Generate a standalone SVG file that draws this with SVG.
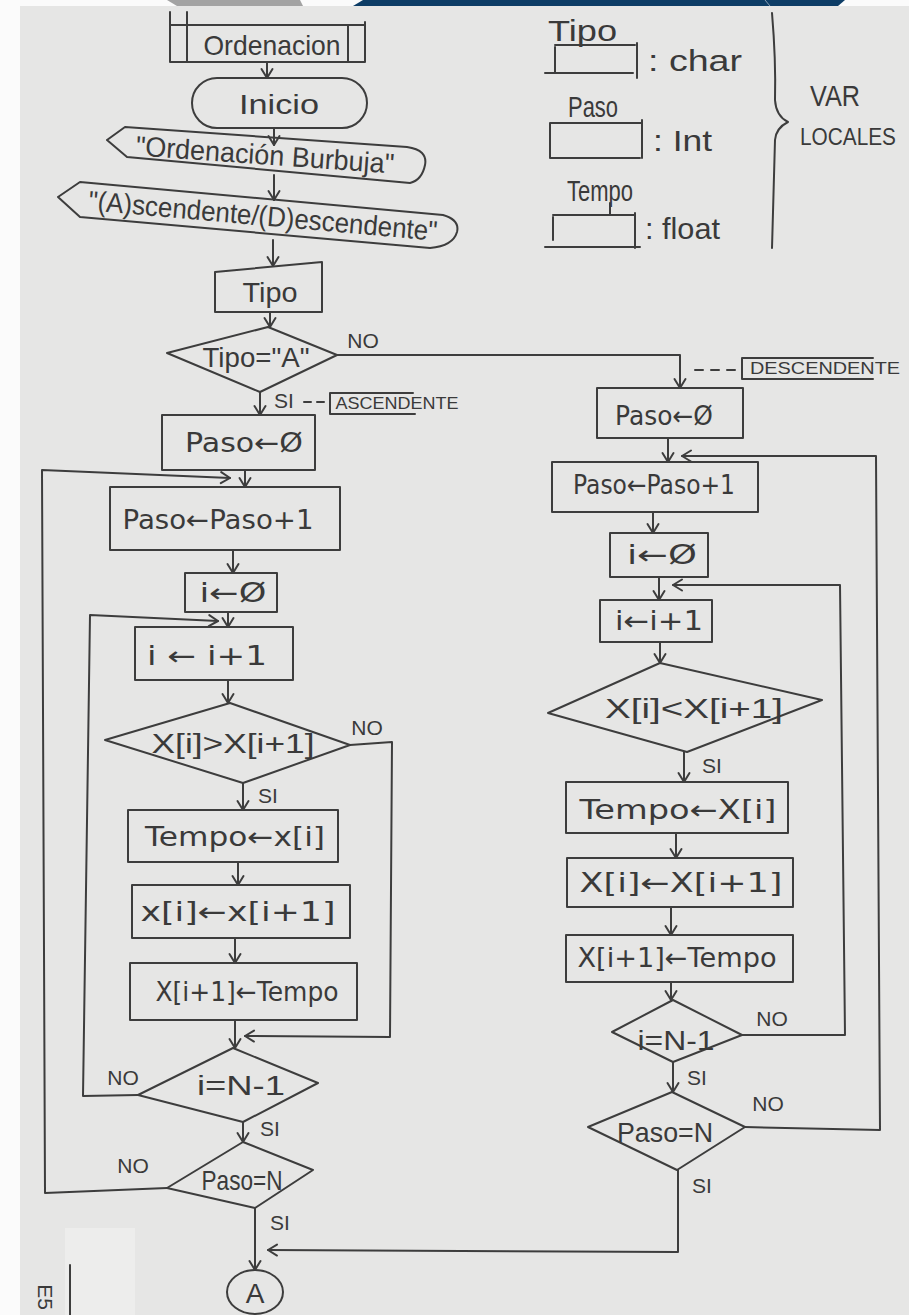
<svg xmlns="http://www.w3.org/2000/svg" width="909" height="1315" viewBox="0 0 909 1315">
  <style>
    .s { fill: none; stroke: #3d3d3d; stroke-width: 2; stroke-linejoin: round; stroke-linecap: round; }
    .t { font-family: "Liberation Sans", "DejaVu Sans", sans-serif; font-size: 28px; fill: #3a3a3a; text-anchor: middle; dominant-baseline: central; }
    .dv { font-family: "DejaVu Sans", sans-serif; font-size: 26px; }
    .lbl { font-size: 21px; }
    .tag { font-size: 17px; }
    .lg { font-size: 30px; text-anchor: start; }
    .lc { font-size: 23px; }
  </style>
  <defs>
    <marker id="arr" markerUnits="userSpaceOnUse" markerWidth="14" markerHeight="14" refX="11" refY="7" orient="auto">
      <path d="M2,1.5 L11,7 L2,12.5" fill="none" stroke="#3d3d3d" stroke-width="2" stroke-linecap="round" stroke-linejoin="round"/>
    </marker>
  </defs>

  <!-- page and margins -->
  <rect x="0" y="0" width="909" height="1315" fill="#fbfbfb"/>
  <rect x="20" y="6" width="889" height="1309" fill="#e6e6e5"/>
  <rect x="65" y="1228" width="70" height="87" fill="#ededec"/>
  <polygon points="167,0 300,0 303,6 177,6" fill="#a3a3a3"/>
  <polygon points="363,0 845,0 838,6 353,6" fill="#0d3d66"/>
  <line x1="765" y1="0" x2="770" y2="6" stroke="#8aa0b5" stroke-width="1"/>

  <!-- local variable declarations -->
  <g id="legend">
    <text class="t lg" x="548" y="30" textLength="69" lengthAdjust="spacingAndGlyphs">Tipo</text>
    <path class="s" d="M555,47 V72 M555,45 H635 M637,43 V78 M545,73 H633"/>
    <text class="t lg" x="648" y="60" textLength="94" lengthAdjust="spacingAndGlyphs">: char</text>
    <text class="t lg" x="568" y="106" textLength="50" lengthAdjust="spacingAndGlyphs">Paso</text>
    <path class="s" d="M550,123 V158 M550,123 H642 M642,120 V158 M550,158 H640"/>
    <text class="t lg" x="653" y="140" textLength="59" lengthAdjust="spacingAndGlyphs">: Int</text>
    <text class="t lg" x="567" y="190" textLength="66" lengthAdjust="spacingAndGlyphs">Tempo</text>
    <path class="s" d="M553,217 V240 M553,215 H635 M635,213 V248 M545,247 H640 M610,203 V215"/>
    <text class="t lg" x="645" y="228" textLength="75" lengthAdjust="spacingAndGlyphs">: float</text>
    <path class="s" d="M772,13 Q776,60 775,100 Q776,116 788,122 Q776,128 775,140 L772,248"/>
    <text class="t lg" x="810" y="95" textLength="50" lengthAdjust="spacingAndGlyphs">VAR</text>
    <text class="t lg lc" x="800" y="137" textLength="96" lengthAdjust="spacingAndGlyphs">LOCALES</text>
  </g>

  <!-- connectors -->
  <g id="connectors" class="s">
    <path d="M267,62 V78" marker-end="url(#arr)"/>
    <path d="M274,128 V145" marker-end="url(#arr)"/>
    <path d="M274,175 V200" marker-end="url(#arr)"/>
    <path d="M273,240 V266" marker-end="url(#arr)"/>
    <path d="M270,312 V327" marker-end="url(#arr)"/>
    <path d="M260,392 V415" marker-end="url(#arr)"/>
    <path d="M337,355 H680 V388" marker-end="url(#arr)"/>
    <!-- ascending branch -->
    <path d="M245,470 V487" marker-end="url(#arr)"/>
    <path d="M233,550 V573" marker-end="url(#arr)"/>
    <path d="M228,612 V627" marker-end="url(#arr)"/>
    <path d="M228,680 V703" marker-end="url(#arr)"/>
    <path d="M243,783 V810" marker-end="url(#arr)"/>
    <path d="M238,862 V885" marker-end="url(#arr)"/>
    <path d="M235,938 V963" marker-end="url(#arr)"/>
    <path d="M235,1020 V1048" marker-end="url(#arr)"/>
    <path d="M243,1122 V1142" marker-end="url(#arr)"/>
    <path d="M255,1208 V1270" marker-end="url(#arr)"/>
    <path d="M350,745 L392,742 L390,1037 L245,1036" marker-end="url(#arr)"/>
    <path d="M138,1095 L83,1096 L90,615 L218,621" marker-end="url(#arr)"/>
    <path d="M167,1188 L45,1193 L42,470 L230,478" marker-end="url(#arr)"/>
    <!-- descending branch -->
    <path d="M668,438 V462" marker-end="url(#arr)"/>
    <path d="M653,512 V533" marker-end="url(#arr)"/>
    <path d="M659,577 V600" marker-end="url(#arr)"/>
    <path d="M660,642 V663" marker-end="url(#arr)"/>
    <path d="M684,752 V782" marker-end="url(#arr)"/>
    <path d="M676,833 V858" marker-end="url(#arr)"/>
    <path d="M671,907 V935" marker-end="url(#arr)"/>
    <path d="M671,982 V1000" marker-end="url(#arr)"/>
    <path d="M673,1062 V1092" marker-end="url(#arr)"/>
    <path d="M742,1035 H845 L840,585 H673" marker-end="url(#arr)"/>
    <path d="M745,1127 L880,1130 L876,456 H682" marker-end="url(#arr)"/>
    <path d="M678,1170 L678,1252 L268,1250" marker-end="url(#arr)"/>
  </g>

  <!-- header nodes -->
  <g id="n-ordenacion">
    <path class="s" d="M170,12 V62 M187,12 V62 M170,25 H365 M170,62 H365 M348,25 V62 M365,22 V62"/>
    <text class="t" x="272" y="45" textLength="137" lengthAdjust="spacingAndGlyphs">Ordenacion</text>
  </g>
  <g id="n-inicio">
    <rect class="s" x="192" y="78" width="175" height="50" rx="25"/>
    <text class="t" x="279" y="104" textLength="80" lengthAdjust="spacingAndGlyphs">Inicio</text>
  </g>
  <g id="n-titulo">
    <path class="s" d="M107,140 L125,127 L407,147 Q428,150 425,165 Q422,180 410,183 L127,157 Z"/>
    <text class="t" x="265" y="155" transform="rotate(4 265 155)" textLength="259" lengthAdjust="spacingAndGlyphs">"Ordenación Burbuja"</text>
  </g>
  <g id="n-pregunta">
    <path class="s" d="M58,197 L80,182 L443,215 Q460,220 457,232 Q453,246 430,248 L80,217 Z"/>
    <text class="t" x="263" y="216" transform="rotate(5 263 216)" textLength="350" lengthAdjust="spacingAndGlyphs">"(A)scendente/(D)escendente"</text>
  </g>
  <g id="n-leer-tipo">
    <path class="s" d="M215,272 L322,262 L322,312 L215,312 Z"/>
    <text class="t" x="270" y="292" textLength="55" lengthAdjust="spacingAndGlyphs">Tipo</text>
  </g>
  <g id="n-tipo-a">
    <path class="s" d="M268,327 L337,355 L260,392 L167,353 Z"/>
    <text class="t" x="256" y="357" textLength="107" lengthAdjust="spacingAndGlyphs">Tipo="A"</text>
  </g>

  <!-- ascending sort -->
  <g id="a-paso0">
    <rect class="s" x="162" y="415" width="153" height="55"/>
    <text class="t dv" x="244" y="443" textLength="118" lengthAdjust="spacingAndGlyphs">Paso←Ø</text>
  </g>
  <g id="a-paso-inc">
    <rect class="s" x="110" y="487" width="230" height="63"/>
    <text class="t dv" x="218" y="520" textLength="191" lengthAdjust="spacingAndGlyphs">Paso←Paso+1</text>
  </g>
  <g id="a-i0">
    <rect class="s" x="185" y="573" width="92" height="39"/>
    <text class="t dv" x="233" y="593" textLength="67" lengthAdjust="spacingAndGlyphs">i←Ø</text>
  </g>
  <g id="a-i-inc">
    <rect class="s" x="135" y="627" width="158" height="53"/>
    <text class="t dv" x="207" y="656" textLength="120" lengthAdjust="spacingAndGlyphs">i ← i+1</text>
  </g>
  <g id="a-cmp">
    <path class="s" d="M230,703 L350,745 L243,783 L105,740 Z"/>
    <text class="t" x="233" y="743" textLength="163" lengthAdjust="spacingAndGlyphs">X[i]&gt;X[i+1]</text>
  </g>
  <g id="a-swap1">
    <rect class="s" x="128" y="810" width="210" height="52"/>
    <text class="t dv" x="235" y="837" textLength="180" lengthAdjust="spacingAndGlyphs">Tempo←x[i]</text>
  </g>
  <g id="a-swap2">
    <rect class="s" x="132" y="885" width="218" height="53"/>
    <text class="t dv" x="238" y="912" textLength="195" lengthAdjust="spacingAndGlyphs">x[i]←x[i+1]</text>
  </g>
  <g id="a-swap3">
    <rect class="s" x="130" y="963" width="227" height="57"/>
    <text class="t dv" x="247" y="992" textLength="183" lengthAdjust="spacingAndGlyphs">X[i+1]←Tempo</text>
  </g>
  <g id="a-fin-i">
    <path class="s" d="M233,1048 L318,1083 L243,1122 L138,1095 Z"/>
    <text class="t" x="241" y="1085" textLength="88" lengthAdjust="spacingAndGlyphs">i=N-1</text>
  </g>
  <g id="a-fin-paso">
    <path class="s" d="M243,1142 L313,1170 L255,1208 L167,1188 Z"/>
    <text class="t" x="242" y="1180" textLength="81" lengthAdjust="spacingAndGlyphs">Paso=N</text>
  </g>
  <g id="conector-a">
    <ellipse class="s" cx="255" cy="1292" rx="28" ry="22"/>
    <text class="t" x="255" y="1293">A</text>
  </g>

  <!-- descending sort -->
  <g id="d-paso0">
    <rect class="s" x="597" y="388" width="146" height="50"/>
    <text class="t dv" x="664" y="416" textLength="98" lengthAdjust="spacingAndGlyphs">Paso←Ø</text>
  </g>
  <g id="d-paso-inc">
    <rect class="s" x="552" y="462" width="206" height="50"/>
    <text class="t dv" x="654" y="485" textLength="162" lengthAdjust="spacingAndGlyphs">Paso←Paso+1</text>
  </g>
  <g id="d-i0">
    <rect class="s" x="610" y="533" width="98" height="44"/>
    <text class="t dv" x="662" y="555" textLength="70" lengthAdjust="spacingAndGlyphs">i←Ø</text>
  </g>
  <g id="d-i-inc">
    <rect class="s" x="600" y="600" width="112" height="42"/>
    <text class="t dv" x="659" y="621" textLength="88" lengthAdjust="spacingAndGlyphs">i←i+1</text>
  </g>
  <g id="d-cmp">
    <path class="s" d="M660,663 L822,700 L687,752 L548,713 Z"/>
    <text class="t" x="694" y="708" textLength="178" lengthAdjust="spacingAndGlyphs">X[i]&lt;X[i+1]</text>
  </g>
  <g id="d-swap1">
    <rect class="s" x="566" y="782" width="222" height="51"/>
    <text class="t dv" x="678" y="810" textLength="197" lengthAdjust="spacingAndGlyphs">Tempo←X[i]</text>
  </g>
  <g id="d-swap2">
    <rect class="s" x="567" y="858" width="226" height="49"/>
    <text class="t dv" x="681" y="883" textLength="203" lengthAdjust="spacingAndGlyphs">X[i]←X[i+1]</text>
  </g>
  <g id="d-swap3">
    <rect class="s" x="566" y="935" width="227" height="47"/>
    <text class="t dv" x="677" y="958" textLength="199" lengthAdjust="spacingAndGlyphs">X[i+1]←Tempo</text>
  </g>
  <g id="d-fin-i">
    <path class="s" d="M673,1000 L742,1035 L673,1062 L612,1032 Z"/>
    <text class="t" x="676" y="1040" textLength="77" lengthAdjust="spacingAndGlyphs">i=N-1</text>
  </g>
  <g id="d-fin-paso">
    <path class="s" d="M672,1092 L745,1127 L677,1170 L588,1127 Z"/>
    <text class="t" x="665" y="1132" textLength="96" lengthAdjust="spacingAndGlyphs">Paso=N</text>
  </g>

  <!-- branch labels and notes -->
  <g id="labels">
    <text class="t lbl" x="363" y="340">NO</text>
    <text class="t lbl" x="284" y="400">SI</text>
    <path class="s" d="M304,402 H311 M317,402 H324 M413,393 H330 V414 H415"/>
    <text class="t tag" x="397" y="403" textLength="123" lengthAdjust="spacingAndGlyphs">ASCENDENTE</text>
    <path class="s" d="M695,370 H703 M711,370 H719 M727,370 H735 M873,358 H742 V379 H873"/>
    <text class="t tag" x="825" y="368" textLength="150" lengthAdjust="spacingAndGlyphs">DESCENDENTE</text>
    <text class="t lbl" x="367" y="727">NO</text>
    <text class="t lbl" x="268" y="795">SI</text>
    <text class="t lbl" x="123" y="1077">NO</text>
    <text class="t lbl" x="270" y="1128">SI</text>
    <text class="t lbl" x="133" y="1165">NO</text>
    <text class="t lbl" x="280" y="1222">SI</text>
    <text class="t lbl" x="712" y="765">SI</text>
    <text class="t lbl" x="772" y="1018">NO</text>
    <text class="t lbl" x="697" y="1077">SI</text>
    <text class="t lbl" x="768" y="1103">NO</text>
    <text class="t lbl" x="702" y="1185">SI</text>
  </g>

  <!-- page margin note -->
  <g id="margen">
    <path class="s" d="M70,1265 V1315"/>
    <text class="t lbl" x="45" y="1297" transform="rotate(90 45 1297)">E5</text>
  </g>
</svg>
